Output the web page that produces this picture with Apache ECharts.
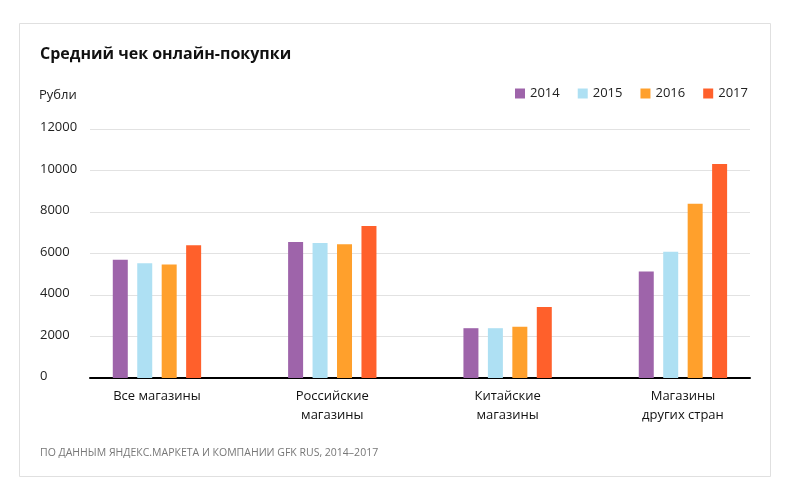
<!DOCTYPE html>
<html><head><meta charset="utf-8">
<script src="https://cdn.jsdelivr.net/npm/echarts@6/dist/echarts.min.js"></script>
<style>html,body{margin:0;padding:0;background:#fff}#c{width:791px;height:504px}</style>
</head><body><div id="c"></div>
<script>
const categories = ['Все магазины', 'Российские\nмагазины', 'Китайские\nмагазины', 'Магазины\nдругих стран'];
const years = ['2014', '2015', '2016', '2017'];
const v2014 = [5700, 6550, 2400, 5130];
const v2015 = [5530, 6510, 2400, 6080];
const v2016 = [5470, 6450, 2470, 8400];
const v2017 = [6400, 7330, 3420, 10310];
const yTicks = [0, 2000, 4000, 6000, 8000, 10000, 12000];
const colors = ['#9e64aa', '#aee0f3', '#ffa02c', '#ff602b'];

const FONT = "'Open Sans', 'Noto Sans', sans-serif";
const chart = echarts.init(document.getElementById('c'), null, {renderer: 'canvas'});
const seriesVals = [v2014, v2015, v2016, v2017];
chart.setOption({
  animation: false,
  textStyle: {fontFamily: FONT},
  graphic: [{type: 'rect', z: -10, shape: {x: 19.5, y: 23.5, width: 751, height: 453},
             style: {fill: '#fff', stroke: '#e0e0e0', lineWidth: 1}}],
  title: [
    {text: 'Средний чек онлайн-покупки', left: 40, top: 46, padding: 0,
     textStyle: {fontFamily: FONT, fontSize: 16, fontWeight: 'bold', color: '#111'}},
    {text: 'Рубли', left: 39, top: 89, padding: 0, textStyle: {fontFamily: FONT, fontSize: 13, fontWeight: 'normal', color: '#222'}},
    {text: 'ПО ДАННЫМ ЯНДЕКС.МАРКЕТА И КОМПАНИИ GFK RUS, 2014–2017', left: 40, top: 448, padding: 0,
     textStyle: {fontFamily: FONT, fontSize: 10.5, fontWeight: 'normal', color: '#777'}}
  ],
  legend: {data: years, left: 515, top: 87, padding: 0, icon: 'rect', itemWidth: 10, itemHeight: 10, itemGap: 18,
           textStyle: {fontFamily: FONT, fontSize: 13, color: '#222'}},
  grid: [
    {left: 90, right: 41, top: 129, bottom: 126},
    {left: 69.3, right: 20.4, top: 129, bottom: 126}
  ],
  xAxis: [
    {type: 'category', gridIndex: 0, data: categories, axisLabel: {show: false}, axisTick: {show: false},
     axisLine: {lineStyle: {color: '#000', width: 2}}},
    {type: 'category', gridIndex: 1, data: categories, axisLine: {show: false}, axisTick: {show: false},
     axisLabel: {margin: 9, fontFamily: FONT, fontSize: 13, lineHeight: 19, color: '#111'}}
  ],
  yAxis: [
    {type: 'value', gridIndex: 0, min: yTicks[0], max: yTicks[yTicks.length - 1], interval: 2000,
     axisLine: {show: false}, axisTick: {show: false},
     splitLine: {lineStyle: {color: '#e2e2e2', width: 1}},
     axisLabel: {align: 'left', margin: 50, fontFamily: FONT, fontSize: 13, color: '#222',
                 formatter: v => String(v),
                 verticalAlign: 'bottom', padding: [0, 0, -5, 0]}},
    {type: 'value', gridIndex: 1, min: yTicks[0], max: yTicks[yTicks.length - 1], show: false, splitLine: {show: false}}
  ],
  series: years.map((y, i) => ({
    name: y, type: 'bar', xAxisIndex: 1, yAxisIndex: 1, data: seriesVals[i],
    barWidth: 15, barGap: '63%', itemStyle: {color: colors[i]}
  })),
  color: colors
});
</script></body></html>
